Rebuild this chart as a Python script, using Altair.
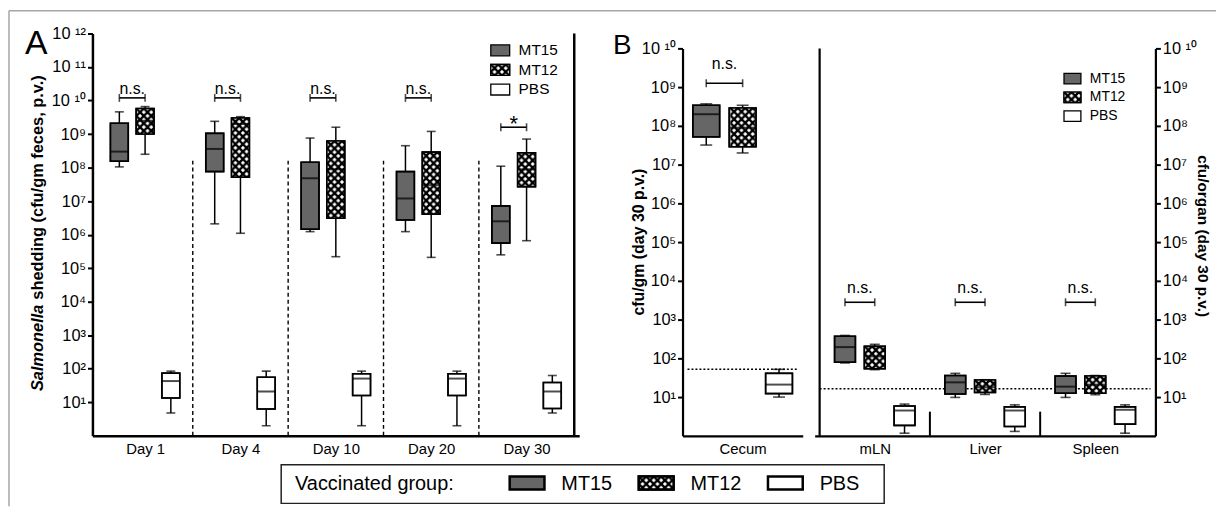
import base64
import altair as alt
import pandas as pd

FONT = "Liberation Sans, Arial, Helvetica, sans-serif"

# ---------------- data ----------------
days = ["Day 1", "Day 4", "Day 10", "Day 20", "Day 30"]
groups = ["MT15", "MT12", "PBS"]

# Panel A: shedding, cfu/gm feces; order per day: MT15, MT12, PBS
a_wmin = [1.05e8, 2.5e8, 4.8, 2.1e6, 1.1e6, 2.0, 1.23e6, 2.2e5, 2.0, 1.23e6, 2.1e5, 2.0, 2.5e5, 6.6e5, 4.8]
a_q1 = [1.55e8, 1.0e9, 13.5, 7.6e7, 5.2e7, 6.3, 1.45e6, 3.1e6, 16, 2.75e6, 4.1e6, 16, 5.6e5, 2.7e7, 6.5]
a_med = [3.0e8, 2.5e9, 43, 3.6e8, 2.0e9, 21, 4.8e7, 8.9e7, 51, 1.2e7, 3.0e7, 51, 2.5e6, 8.9e7, 21]
a_q3 = [2.1e9, 5.8e9, 74, 1.05e9, 3.0e9, 56, 1.45e8, 6.2e8, 71, 7.6e7, 2.9e8, 71, 7.2e6, 2.75e8, 39]
a_wmax = [4.6e9, 6.6e9, 85, 2.4e9, 3.3e9, 85, 7.6e8, 1.6e9, 85, 4.5e8, 1.2e9, 85, 1.1e8, 7.1e8, 63]
a_sig = ["n.s.", "n.s.", "n.s.", "n.s.", "*"]
a_sig_level = [1.2e10, 1.2e10, 1.2e10, 1.2e10, 1.6e9]
a_sep_top = 1.6e8

# Panel B: day 30 organ counts; order per organ: MT15, MT12, PBS
organs = ["Cecum", "mLN", "Liver", "Spleen"]
b_wmin = [3.2e7, 2.0e7, 10, 76, 51, 1.17, 9.8, 11.7, 1.3, 9.8, 11.5, 1.17]
b_q1 = [5.2e7, 2.9e7, 12.3, 79, 54, 1.86, 12, 13.2, 1.74, 12.6, 12.6, 2.0]
b_med = [2.0e8, 9.0e7, 21, 195, 112, 4.5, 24, 18, 4.5, 18.6, 21, 4.7]
b_q3 = [3.4e8, 2.9e8, 41, 370, 204, 5.9, 36, 27.5, 5.6, 35, 35, 5.6]
b_wmax = [3.7e8, 3.4e8, 52, 390, 230, 6.6, 41, 28, 6.3, 41, 36, 6.3]
b_sig = ["n.s.", "n.s.", "n.s.", "n.s."]
b_sig_level = [1.26e9, 2.8e3, 2.8e3, 2.8e3]
cecum_limit = 52
organ_limit = 16.5
b_sep_top = 4.2

a_ticks = [10 ** k for k in range(1, 13)]
b_ticks = [10 ** k for k in range(1, 11)]

# ---------------- layout / style ----------------
W, H = 1208, 429
A_XR, A_YR = [85, 575], [429, 24]
BL_XR, B_YR = [679, 800], [429, 39]
BR_XR = [812, 1155]
A_OFF = [-0.27, 0.0, 0.27]
BL_OFF = [-0.33, 0.0, 0.33]
BR_OFF = [-0.27, 0.0, 0.27]
A_BOX, BL_BOX, BR_BOX = 18, 27, 21
FILLS = ["#666666", "#7a7a7a", "#ffffff"]
FILL = alt.Scale(domain=groups, range=FILLS)

svg = ("<svg xmlns='http://www.w3.org/2000/svg'><defs>"
       "<pattern id='h' width='7.5' height='7.5' patternUnits='userSpaceOnUse'>"
       "<rect width='7.5' height='7.5' fill='#ffffff'/>"
       "<path d='M0,0L7.5,7.5M7.5,0L0,7.5' stroke='#000000' stroke-width='2.4'/>"
       "</pattern></defs><rect width='100%' height='100%' fill='url(#h)'/></svg>")
HATCH = "data:image/svg+xml;base64," + base64.b64encode(svg.encode()).decode()

SUPS = "⁰¹²³⁴⁵⁶⁷⁸⁹"
ARR = "[" + ",".join("'%s'" % c for c in SUPS) + "]"
E = "round(log(datum.value)/LN10)"
SUP_EXPR = "'10' + (%s >= 10 ? ' ' + %s[floor(%s/10)] + %s[%s %% 10] : %s[%s])" % (E, ARR, E, ARR, E, ARR, E)


def cat_expr(names):
    return "[" + ",".join("'%s'" % n for n in names) + "][floor(datum.value)]"


AX = dict(domainColor="black", tickColor="black", labelColor="black", labelFont=FONT,
          grid=False, labelFlush=False, labelOverlap=False, labelBound=False, title=None)


def factory(xdom, xrng, ydom, yrng, xaxis, yaxis):
    xs = alt.Scale(domain=xdom, range=xrng, nice=False, zero=False)
    ys = alt.Scale(type="log", domain=ydom, range=yrng, nice=False)

    def X(f):
        return alt.X(f, type="quantitative", scale=xs, axis=xaxis, title=None)

    def Y(f):
        return alt.Y(f, type="quantitative", scale=ys, axis=yaxis, title=None)
    return X, Y


def build_df(cats, offs, half, wmin, q1, med, q3, wmax, start=0):
    rows = []
    for i, c in enumerate(cats):
        for j, g in enumerate(groups):
            k = (start + i) * 3 + j
            p = i + 0.5 + offs[j]
            rows.append(dict(cat=c, group=g, pos=p, xl=p - half, xr=p + half,
                             wmin=wmin[k], q1=q1[k], med=med[k], q3=q3[k], wmax=wmax[k]))
    return pd.DataFrame(rows)


def box_layers(df, X, Y, box_w, cap_w):
    base = alt.Chart(df)
    return [
        base.mark_rule(color="black", strokeWidth=1.5).encode(x=X("pos"), y=Y("wmin"), y2="wmax"),
        base.transform_fold(["wmin", "wmax"], as_=["k", "v"]).mark_tick(
            orient="horizontal", size=cap_w, thickness=1.6, color="black").encode(x=X("pos"), y=Y("v")),
        base.mark_bar(size=box_w, stroke="black", strokeWidth=1.5).encode(
            x=X("pos"), y=Y("q1"), y2="q3", fill=alt.Fill("group:N", scale=FILL, legend=None)),
        base.transform_filter(alt.datum.group == "MT12").mark_image(aspect=False).encode(
            x=X("xl"), x2="xr", y=Y("q1"), y2="q3", url=alt.value(HATCH)),
        base.mark_bar(size=box_w, fillOpacity=0, stroke="black", strokeWidth=1.6).encode(
            x=X("pos"), y=Y("q1"), y2="q3"),
        base.mark_tick(orient="horizontal", size=box_w, thickness=2, color="black").encode(
            x=X("pos"), y=Y("med")),
    ]


def sig_layers(cats, offs, levels, labels, X, Y, dy, star_dy=3):
    sdf = pd.DataFrame(dict(
        cat=cats,
        x1=[i + 0.5 + offs[0] for i in range(len(cats))],
        x2=[i + 0.5 + offs[1] for i in range(len(cats))],
        level=levels, label=labels))
    sdf["xm"] = (sdf["x1"] + sdf["x2"]) / 2
    base = alt.Chart(sdf)
    out = [
        base.mark_rule(color="black", strokeWidth=1.6).encode(x=X("x1"), x2="x2", y=Y("level")),
        base.transform_fold(["x1", "x2"], as_=["k", "v"]).mark_tick(
            orient="vertical", size=8, thickness=1.6, color="black").encode(x=X("v"), y=Y("level")),
        base.transform_filter(alt.datum.label != "*").mark_text(
            font=FONT, fontSize=16, baseline="alphabetic", dy=dy, color="black").encode(
            x=X("xm"), y=Y("level"), text="label:N"),
        base.transform_filter(alt.datum.label == "*").mark_text(
            font=FONT, fontSize=22, baseline="alphabetic", dy=star_dy, color="black").encode(
            x=X("xm"), y=Y("level"), text="label:N"),
    ]
    return out


# ---------------- Panel A ----------------
ax_a_y = alt.Axis(orient="left", offset=-A_XR[0], values=a_ticks, labelExpr=SUP_EXPR, tickSize=5,
                  tickWidth=2, domainWidth=2.5, labelFontSize=16.5, labelPadding=2, **AX)
ax_a_x = alt.Axis(orient="bottom", values=[i + 0.5 for i in range(len(days))], labelExpr=cat_expr(days),
                  ticks=False, domainWidth=2.5, labelFontSize=15, labelPadding=6, **AX)
XA, YA = factory([0, len(days)], A_XR, [1, 1e12], A_YR, ax_a_x, ax_a_y)
dfA = build_df(days, A_OFF, (A_BOX / 2) / ((A_XR[1] - A_XR[0]) / len(days)),
               a_wmin, a_q1, a_med, a_q3, a_wmax)
sepA = pd.DataFrame(dict(x=list(range(1, len(days))), lo=1, hi=a_sep_top))
borderA = pd.DataFrame(dict(x=[len(days)], lo=[1], hi=[1e12]))
panelA = alt.layer(
    alt.Chart(sepA).mark_rule(color="black", strokeWidth=1.4, strokeDash=[4, 3]).encode(
        x=XA("x"), y=YA("lo"), y2="hi"),
    alt.Chart(borderA).mark_rule(color="black", strokeWidth=2.5).encode(x=XA("x"), y=YA("lo"), y2="hi"),
    *box_layers(dfA, XA, YA, A_BOX, 9),
    *sig_layers(days, A_OFF, a_sig_level, a_sig, XA, YA, dy=-4, star_dy=4),
)

# ---------------- Panel B, cecum ----------------
ax_bl_y = alt.Axis(orient="left", offset=-BL_XR[0], values=b_ticks, labelExpr=SUP_EXPR, tickSize=5,
                   tickWidth=2, domainWidth=2.2, labelFontSize=16.5, labelPadding=2, **AX)
ax_bl_x = alt.Axis(orient="bottom", values=[0.5], labelExpr=cat_expr(organs[:1]), ticks=False,
                   domainWidth=2.2, labelFontSize=15, labelPadding=6, **AX)
XBL, YBL = factory([0, 1], BL_XR, [1, 1e10], B_YR, ax_bl_x, ax_bl_y)
dfBL = build_df(organs[:1], BL_OFF, (BL_BOX / 2) / (BL_XR[1] - BL_XR[0]),
                b_wmin, b_q1, b_med, b_q3, b_wmax, start=0)
limBL = pd.DataFrame(dict(x1=[0], x2=[1], y=[cecum_limit]))
panelBL = alt.layer(
    alt.Chart(limBL).mark_rule(color="black", strokeWidth=1.5, strokeDash=[2, 2]).encode(
        x=XBL("x1"), x2="x2", y=YBL("y")),
    *box_layers(dfBL, XBL, YBL, BL_BOX, 12),
    *sig_layers(organs[:1], BL_OFF, b_sig_level[:1], b_sig[:1], XBL, YBL, dy=-14),
)

# ---------------- Panel B, organs ----------------
ax_br_y = alt.Axis(orient="right", offset=BR_XR[1] - W, values=b_ticks, labelExpr=SUP_EXPR, tickSize=5,
                   tickWidth=2, domainWidth=2.2, labelFontSize=16.5, labelPadding=2, **AX)
ax_br_x = alt.Axis(orient="bottom", values=[0.5, 1.5, 2.5], labelExpr=cat_expr(organs[1:]), ticks=False,
                   domainWidth=2.2, labelFontSize=15, labelPadding=6, **AX)
XBR, YBR = factory([0, 3], BR_XR, [1, 1e10], B_YR, ax_br_x, ax_br_y)
dfBR = build_df(organs[1:], BR_OFF, (BR_BOX / 2) / ((BR_XR[1] - BR_XR[0]) / 3),
                b_wmin, b_q1, b_med, b_q3, b_wmax, start=1)
limBR = pd.DataFrame(dict(x1=[0], x2=[3], y=[organ_limit]))
sepBR = pd.DataFrame(dict(x=[1, 2], lo=[1, 1], hi=[b_sep_top, b_sep_top]))
borderBR = pd.DataFrame(dict(x=[0], lo=[1], hi=[1e10]))
panelBR = alt.layer(
    alt.Chart(borderBR).mark_rule(color="black", strokeWidth=2.2).encode(x=XBR("x"), y=YBR("lo"), y2="hi"),
    alt.Chart(sepBR).mark_rule(color="black", strokeWidth=2).encode(x=XBR("x"), y=YBR("lo"), y2="hi"),
    alt.Chart(limBR).mark_rule(color="black", strokeWidth=1.5, strokeDash=[2, 2]).encode(
        x=XBR("x1"), x2="x2", y=YBR("y")),
    *box_layers(dfBR, XBR, YBR, BR_BOX, 10),
    *sig_layers(organs[1:], BR_OFF, b_sig_level[1:], b_sig[1:], XBR, YBR, dy=-9),
)

# ---------------- annotations, legends ----------------
one = pd.DataFrame({"i": [0]})


def txt(s, x, y, size, **kw):
    return alt.Chart(one).mark_text(text=s, font=FONT, fontSize=size, color="black", **kw).encode(
        x=alt.value(x), y=alt.value(y))


def patch(x0, x1, y0, y1, gi, sw):
    out = [alt.Chart(one).mark_rect(fill=FILLS[gi], stroke="black", strokeWidth=sw).encode(
        x=alt.value(x0), x2=alt.value(x1), y=alt.value(y0), y2=alt.value(y1))]
    if groups[gi] == "MT12":
        out.append(alt.Chart(one).mark_image(aspect=False).encode(
            x=alt.value(x0), x2=alt.value(x1), y=alt.value(y0), y2=alt.value(y1), url=alt.value(HATCH)))
        out.append(alt.Chart(one).mark_rect(fillOpacity=0, stroke="black", strokeWidth=sw).encode(
            x=alt.value(x0), x2=alt.value(x1), y=alt.value(y0), y2=alt.value(y1)))
    return out


deco = [
    alt.Chart(one).mark_rule(color="#a6a6a6", strokeWidth=1.5).encode(
        x=alt.value(1), x2=alt.value(W + 8), y=alt.value(1)),
    alt.Chart(one).mark_rule(color="#a6a6a6", strokeWidth=1.5).encode(
        x=alt.value(1), y=alt.value(1), y2=alt.value(H + 71)),
    txt("A", 17, 45, 34, align="left", baseline="alphabetic"),
    txt("B", 609, 45, 28, align="left", baseline="alphabetic"),
    txt("Salmonella", 30, 384, 16.5, align="left", baseline="middle", angle=270,
        fontStyle="italic", fontWeight="bold"),
    txt("shedding (cfu/gm feces, p.v.)", 30, 292, 16.5, align="left", baseline="middle", angle=270,
        fontWeight="bold"),
    txt("cfu/gm (day 30 p.v.)", 635, 234, 16, align="center", baseline="middle", angle=270,
        fontWeight="bold"),
    txt("cfu/organ (day 30 p.v.)", 1203, 228, 15.5, align="center", baseline="middle", angle=90,
        fontWeight="bold"),
]

# panel A legend
for gi, g in enumerate(groups):
    yc = 41 + gi * 19.7
    deco += patch(486, 505, yc - 5.5, yc + 5.5, gi, 1.3)
    deco.append(txt(g, 514, yc, 15.5, align="left", baseline="middle"))
# panel B legend
for gi, g in enumerate(groups):
    yc = 69.5 + gi * 18.8
    deco += patch(1063, 1080, yc - 5.3, yc + 5.3, gi, 1.3)
    deco.append(txt(g, 1089, yc, 14, align="left", baseline="middle"))
# bottom legend
deco.append(alt.Chart(one).mark_rect(fill="white", stroke="#222222", strokeWidth=1.5).encode(
    x=alt.value(275), x2=alt.value(882), y=alt.value(458), y2=alt.value(497)))
deco.append(txt("Vaccinated group:", 289, 478, 20, align="left", baseline="middle"))
for gi, g in enumerate(groups):
    x0 = 505 + gi * 130
    deco += patch(x0, x0 + 35, 470, 483, gi, 2.5)
    deco.append(txt(g, x0 + 52, 478, 20, align="left", baseline="middle"))

chart = alt.layer(panelA, panelBL, panelBR, *deco).resolve_scale(
    x="independent", y="independent"
).properties(
    width=W, height=H,
    autosize=alt.AutoSizeParams(type="none"),
    padding={"left": 0, "top": 0, "right": 8, "bottom": 71},
).configure_view(stroke=None).configure_axis(grid=False)

chart.save("out.html", embed_options={"renderer": "svg", "actions": False})
